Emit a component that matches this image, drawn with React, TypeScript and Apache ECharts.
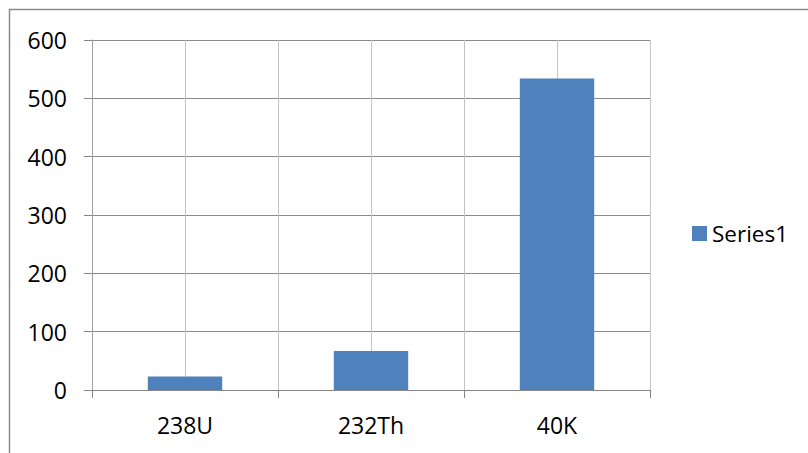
import React, { useEffect, useRef } from "react";
import * as echarts from "echarts";

// Activity concentrations per radionuclide
const categories = ["238U", "232Th", "40K"];
const seriesName = "Series1";
const values = [23, 67, 534];
const yTicks = { min: 0, max: 600, interval: 100 };

const FONT = "'Open Sans', 'Noto Sans', sans-serif";

export default function App() {
  const ref = useRef<HTMLDivElement | null>(null);

  useEffect(() => {
    if (!ref.current) return;
    const chart = echarts.init(ref.current, null, { renderer: "svg" });
    chart.setOption({
      animation: false,
      backgroundColor: "#ffffff",
      textStyle: { fontFamily: FONT },
      graphic: [
        {
          type: "rect",
          shape: { x: 9.5, y: 9.5, width: 1000, height: 1000 },
          style: { fill: "none", stroke: "#8a8a8a", lineWidth: 1.5 },
          silent: true,
        },
      ],
      grid: { left: 92, right: 158, top: 40, bottom: 63, containLabel: false },
      legend: {
        orient: "vertical",
        left: 692,
        top: 222,
        padding: 0,
        itemWidth: 15,
        itemHeight: 15,
        itemGap: 5,
        icon: "rect",
        textStyle: { fontFamily: FONT, fontSize: 22.5, color: "#000" },
        data: [seriesName],
      },
      xAxis: [
        {
          type: "category",
          data: categories,
          boundaryGap: true,
          axisLine: { show: true, lineStyle: { color: "#868686", width: 1 } },
          axisTick: {
            show: true,
            alignWithLabel: false,
            length: 8,
            lineStyle: { color: "#868686" },
          },
          axisLabel: {
            color: "#000",
            fontSize: 23,
            fontFamily: FONT,
            margin: 23,
          },
          splitLine: { show: false },
        },
        {
          // half-category grid: vertical lines at centres and boundaries
          type: "value",
          position: "bottom",
          min: 0,
          max: 6,
          interval: 1,
          axisLine: { show: false },
          axisTick: { show: false },
          axisLabel: { show: false },
          splitLine: { show: true, lineStyle: { color: "#c4c4c4", width: 1 } },
        },
      ],
      yAxis: {
        type: "value",
        min: yTicks.min,
        max: yTicks.max,
        interval: yTicks.interval,
        axisLine: { show: true, lineStyle: { color: "#a0a0a0", width: 1 } },
        axisTick: { show: true, length: 8, lineStyle: { color: "#868686" } },
        axisLabel: {
          color: "#000",
          fontSize: 23,
          fontFamily: FONT,
          margin: 25,
        },
        splitLine: { show: true, lineStyle: { color: "#8c8c8c", width: 1 } },
      },
      series: [
        {
          name: seriesName,
          type: "bar",
          xAxisIndex: 0,
          data: values,
          barWidth: "40%",
          itemStyle: { color: "#4F81BD" },
        },
      ],
    });
    return () => chart.dispose();
  }, []);

  return (
    <div
      ref={ref}
      style={{ position: "absolute", left: 0, top: 0, width: 808, height: 453 }}
    />
  );
}
